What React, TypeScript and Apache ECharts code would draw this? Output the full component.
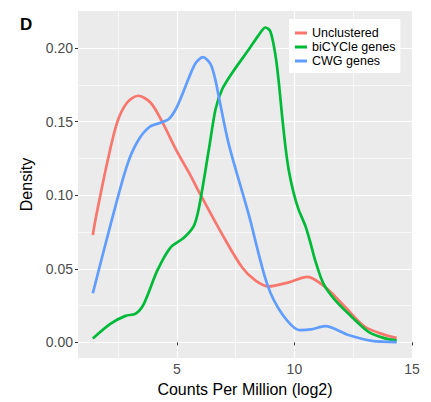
import React, { useEffect, useRef } from "react";
import * as echarts from "echarts";

// Density estimates of expression level (log2 counts per million) per gene group
const seriesNames = ["Unclustered", "biCYCle genes", "CWG genes"];
const seriesColors = ["#F8766D", "#00BA38", "#619CFF"];

const unclusteredX = [1.43, 1.55, 2.05, 2.47, 2.89, 3.35, 3.88, 4.38, 5.0, 5.53, 6.02, 6.93, 7.78, 8.35, 8.91, 9.76, 10.55, 11.31, 12.16, 13.0, 13.86, 14.35];
const unclusteredY = [0.073, 0.084, 0.1227, 0.1497, 0.163, 0.1676, 0.163, 0.1498, 0.13, 0.115, 0.1, 0.0734, 0.0509, 0.042, 0.038, 0.0408, 0.0445, 0.0375, 0.024, 0.0106, 0.005, 0.003];

const bicycleX = [1.43, 2.19, 2.82, 3.25, 3.6, 4.17, 4.73, 5.3, 5.72, 5.94, 6.37, 6.65, 6.93, 7.36, 8.06, 8.49, 8.77, 8.98, 9.19, 9.33, 9.47, 9.62, 9.76, 9.97, 10.18, 10.47, 10.68, 10.89, 11.24, 11.74, 12.44, 13.15, 13.86, 14.35];
const bicycleY = [0.0027, 0.0128, 0.018, 0.0195, 0.0262, 0.0487, 0.0644, 0.0711, 0.079, 0.0913, 0.1317, 0.1586, 0.172, 0.1833, 0.199, 0.209, 0.214, 0.2113, 0.1956, 0.1777, 0.155, 0.1328, 0.117, 0.1014, 0.0902, 0.079, 0.0678, 0.0554, 0.0397, 0.0285, 0.0173, 0.0072, 0.0027, 0.0012];

const cwgX = [1.43, 2.26, 2.89, 3.35, 3.85, 4.39, 4.67, 4.96, 5.24, 5.52, 5.81, 6.11, 6.44, 6.65, 6.79, 7.22, 8.06, 8.84, 9.47, 10.25, 10.7, 11.31, 12.3, 13.29, 14.35];
const cwgY = [0.0334, 0.0846, 0.1205, 0.137, 0.1465, 0.1497, 0.1519, 0.1586, 0.1687, 0.18, 0.19, 0.1938, 0.1889, 0.1777, 0.1665, 0.134, 0.0868, 0.0397, 0.0195, 0.0083, 0.0088, 0.011, 0.005, 0.001, 0.0002];

const xTicks = [5, 10, 15];
const xMinorTicks = [2.5, 7.5, 12.5];
const yTicks = [0, 0.05, 0.1, 0.15, 0.2];
const yMinorTicks = [0.025, 0.075, 0.125, 0.175];

const FONT = "'Liberation Sans', Arial, Helvetica, sans-serif";

const zip = (xs: number[], ys: number[]) => xs.map((x, i) => [x, ys[i]]);

export default function App() {
  const ref = useRef<HTMLDivElement>(null);

  useEffect(() => {
    if (!ref.current) return;
    const chart = echarts.init(ref.current, null, { renderer: "svg" });
    const xRange = { min: 0.8, max: 15 };
    const yRange = { min: -0.0107, max: 0.2252 };
    const dataSets = [zip(unclusteredX, unclusteredY), zip(bicycleX, bicycleY), zip(cwgX, cwgY)];

    chart.setOption({
      animation: false,
      textStyle: { fontFamily: FONT },
      title: {
        text: "D",
        left: 15,
        top: 11,
        textStyle: { fontSize: 17, fontWeight: "bold", color: "#000", fontFamily: FONT },
      },
      grid: {
        left: 78,
        right: 19,
        top: 11,
        bottom: 41,
        show: true,
        backgroundColor: "#EBEBEB",
        borderWidth: 0,
      },
      legend: {
        orient: "vertical",
        left: 289,
        top: 19,
        icon: "rect",
        itemWidth: 12,
        itemHeight: 3,
        itemGap: 0,
        padding: [7, 5, 5, 6],
        backgroundColor: "#FFFFFF",
        textStyle: { fontSize: 12.5, lineHeight: 14, color: "#000", fontFamily: FONT },
        data: seriesNames,
      },
      xAxis: [
        {
          type: "value",
          ...xRange,
          name: "Counts Per Million (log2)",
          nameLocation: "middle",
          nameGap: 20,
          nameTextStyle: { fontSize: 16, color: "#000", fontFamily: FONT },
          axisLine: { show: false },
          axisTick: { show: true, customValues: xTicks, length: 3, lineStyle: { color: "#333333" } },
          axisLabel: { customValues: xTicks, color: "#4D4D4D", fontSize: 14, margin: 4, fontFamily: FONT },
          splitLine: { show: true, lineStyle: { color: "#FFFFFF", width: 1.2 } },
        },
        {
          type: "value",
          ...xRange,
          position: "bottom",
          axisLine: { show: false },
          axisTick: { show: false, customValues: xMinorTicks },
          axisLabel: { show: false, customValues: xMinorTicks },
          splitLine: { show: true, lineStyle: { color: "#FFFFFF", width: 0.6 } },
        },
      ],
      yAxis: [
        {
          type: "value",
          ...yRange,
          name: "Density",
          nameLocation: "middle",
          nameGap: 37,
          nameTextStyle: { fontSize: 16, color: "#000", fontFamily: FONT },
          axisLine: { show: false },
          axisTick: { show: true, customValues: yTicks, length: 3, lineStyle: { color: "#333333" } },
          axisLabel: {
            customValues: yTicks,
            color: "#4D4D4D",
            fontSize: 14,
            margin: 5,
            fontFamily: FONT,
            formatter: (v: number) => v.toFixed(2),
          },
          splitLine: { show: true, lineStyle: { color: "#FFFFFF", width: 1.2 } },
        },
        {
          type: "value",
          ...yRange,
          position: "left",
          axisLine: { show: false },
          axisTick: { show: false, customValues: yMinorTicks },
          axisLabel: { show: false, customValues: yMinorTicks },
          splitLine: { show: true, lineStyle: { color: "#FFFFFF", width: 0.6 } },
        },
      ],
      series: seriesNames.map((name, i) => ({
        name,
        type: "line",
        data: dataSets[i],
        xAxisIndex: 0,
        yAxisIndex: 0,
        smooth: 0.3,
        symbol: "none",
        lineStyle: { color: seriesColors[i], width: 2.7 },
        itemStyle: { color: seriesColors[i] },
      })),
    });

    return () => chart.dispose();
  }, []);

  return (
    <div
      ref={ref}
      style={{ position: "absolute", left: 0, top: 0, width: 431, height: 402 }}
    />
  );
}
